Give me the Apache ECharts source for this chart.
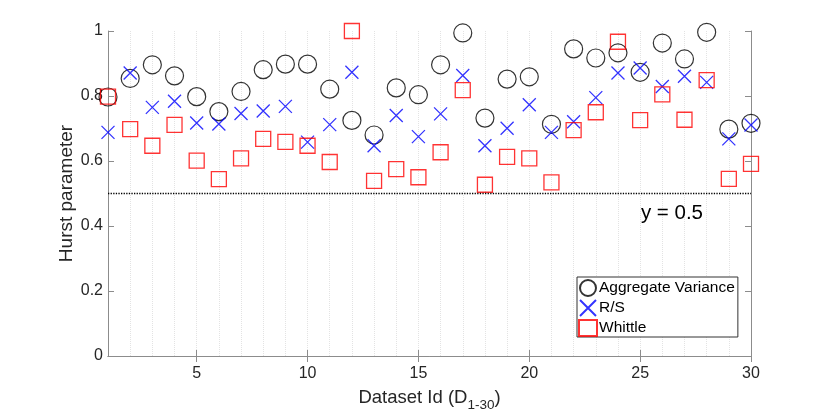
<!DOCTYPE html>
<html>
<head>
<meta charset="utf-8">
<script src="https://cdn.jsdelivr.net/npm/echarts@6/dist/echarts.min.js"></script>
<style>
html,body{margin:0;padding:0;background:#fff;}
#main{width:830px;height:417px;}
</style>
</head>
<body>
<div id="main"></div>
<script>
var myChart = echarts.init(document.getElementById('main'));

// 数据集编号
var ids = [1,2,3,4,5,6,7,8,9,10,11,12,13,14,15,16,17,18,19,20,21,22,23,24,25,26,27,28,29,30];
var aggVar = [0.797,0.854,0.896,0.862,0.798,0.752,0.814,0.881,0.898,0.898,
              0.821,0.725,0.680,0.825,0.804,0.896,0.994,0.732,0.852,0.859,
              0.713,0.945,0.917,0.933,0.873,0.963,0.914,0.996,0.698,0.716];
var rs = [0.688,0.871,0.765,0.784,0.717,0.714,0.746,0.754,0.768,0.658,
          0.712,0.873,0.647,0.740,0.675,0.745,0.863,0.647,0.701,0.773,
          0.688,0.721,0.795,0.871,0.886,0.829,0.861,0.842,0.668,0.711];
var whittle = [0.798,0.698,0.647,0.711,0.601,0.544,0.608,0.668,0.659,0.647,
               0.597,1.000,0.539,0.575,0.550,0.627,0.818,0.527,0.613,0.608,
               0.534,0.695,0.750,0.967,0.726,0.805,0.727,0.849,0.545,0.591];
var xTicks = [5,10,15,20,25,30];
var refLine = 0.5;

function pairs(ys){
  var out=[];
  for(var i=0;i<ids.length;i++){ out.push([ids[i], ys[i]]); }
  return out;
}

var fontName = 'Liberation Sans, Arial, sans-serif';
var axisGray = '#8c8c8c';
var textColor = '#262626';

var option = {
  animation:false,
  grid:{left:108, right:79, top:31, bottom:60},
  textStyle:{fontFamily:fontName},
  legend:{
    orient:'vertical',
    left:577, top:277,
    data:['Aggregate Variance','R/S','Whittle'],
    itemWidth:18, itemHeight:16, itemGap:2,
    padding:[2,3,0,1],
    borderColor:'#333', borderWidth:1,
    backgroundColor:'#fff',
    textStyle:{fontFamily:fontName, fontSize:15.5, color:'#000', padding:[0,0,0,-3], lineHeight:16}
  },
  xAxis:[{
    type:'value', min:1, max:30, interval:1,
    name:'Dataset Id (D{sub|1-30})',
    nameLocation:'middle', nameGap:28, nameMoveOverlap:false,
    nameTextStyle:{fontFamily:fontName, fontSize:18.5, color:textColor,
      rich:{sub:{fontFamily:fontName, fontSize:13.5, color:textColor, verticalAlign:'bottom', padding:[14,0,0,0]}}},
    axisLine:{show:true, lineStyle:{color:axisGray, width:1}},
    axisTick:{show:true, inside:true, length:6, customValues:xTicks, lineStyle:{color:axisGray}},
    axisLabel:{customValues:xTicks, fontFamily:fontName, fontSize:16, color:textColor, margin:10},
    splitLine:{show:false}
  },{
    type:'value', min:1, max:30, interval:1, position:'top',
    axisLine:{show:true, lineStyle:{color:axisGray, width:1}},
    axisTick:{show:true, inside:true, length:6, customValues:xTicks, lineStyle:{color:axisGray}},
    axisLabel:{show:false},
    splitLine:{show:false}
  },{
    type:'value', min:1, max:30, interval:1, position:'bottom',
    axisLine:{show:false}, axisTick:{show:false}, axisLabel:{show:false},
    splitLine:{show:true, lineStyle:{color:'#e3e3e3', type:'dotted', width:1}}
  }],
  yAxis:[{
    type:'value', min:0, max:1, interval:0.2,
    name:'Hurst parameter',
    nameLocation:'middle', nameGap:32, nameMoveOverlap:false,
    nameTextStyle:{fontFamily:fontName, fontSize:19, color:textColor},
    axisLine:{show:true, lineStyle:{color:axisGray, width:1}},
    axisTick:{show:true, inside:true, length:6, lineStyle:{color:axisGray}},
    axisLabel:{fontFamily:fontName, fontSize:16, color:textColor, margin:5,
      formatter:function(v){ return (Math.round(v*10)/10).toString(); }},
    splitLine:{show:false}
  },{
    type:'value', min:0, max:1, interval:0.2, position:'right',
    axisLine:{show:true, lineStyle:{color:axisGray, width:1}},
    axisTick:{show:true, inside:true, length:6, lineStyle:{color:axisGray}},
    axisLabel:{show:false},
    splitLine:{show:false}
  }],
  series:[{
    name:'Aggregate Variance',
    type:'scatter',
    symbol:'circle', symbolSize:18,
    itemStyle:{color:'rgba(0,0,0,0)', borderColor:'#000', borderWidth:1.2},
    data:pairs(aggVar),
    markLine:{
      silent:true, symbol:'none',
      lineStyle:{color:'#000', type:'dotted', width:1.3},
      label:{show:true, position:'insideEndBottom', formatter:'y = 0.5',
        fontFamily:fontName, fontSize:20.5, color:'#000', distance:[48,9]},
      data:[{yAxis:refLine}]
    }
  },{
    name:'R/S',
    type:'scatter',
    symbol:'path://M0,0L10,10M10,0L0,10', symbolSize:13,
    itemStyle:{color:'rgba(0,0,0,0)', borderColor:'#0000ff', borderWidth:1.3},
    data:pairs(rs)
  },{
    name:'Whittle',
    type:'scatter',
    symbol:'rect', symbolSize:15,
    itemStyle:{color:'rgba(0,0,0,0)', borderColor:'#ff0000', borderWidth:1.3},
    data:pairs(whittle)
  }]
};

myChart.setOption(option);
</script>
</body>
</html>
